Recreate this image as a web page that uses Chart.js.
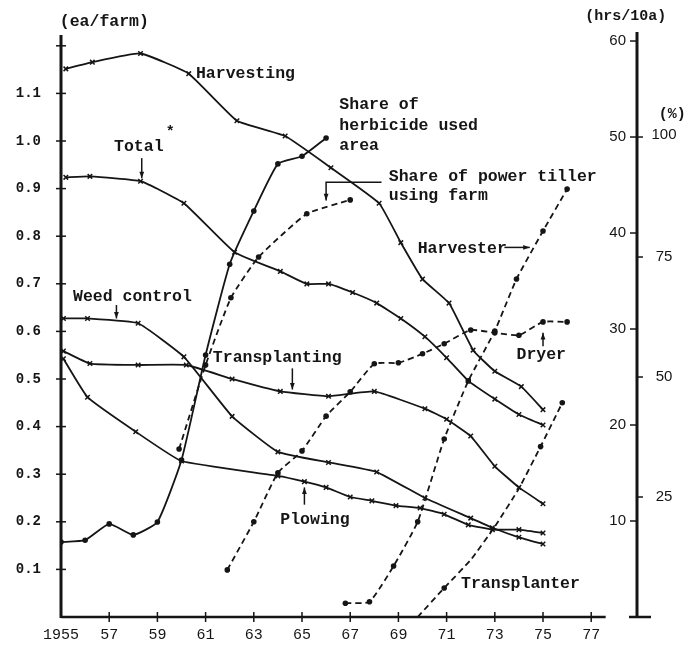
<!DOCTYPE html>
<html>
<head>
<meta charset="utf-8">
<script src="https://cdn.jsdelivr.net/npm/chart.js@4.4.1/dist/chart.umd.min.js"></script>
<style>
  html, body { margin: 0; padding: 0; background: #fff; }
  #wrap { width: 690px; height: 646px; }
</style>
</head>
<body>
<div id="wrap"><canvas id="line-chart" width="690" height="646"></canvas></div>
<script>
// ------------------------------------------------------
// @Data
// ------------------------------------------------------

const yearTicks = [1955, 1957, 1959, 1961, 1963, 1965, 1967, 1969, 1971, 1973, 1975, 1977];
const eaTicks   = [0.1, 0.2, 0.3, 0.4, 0.5, 0.6, 0.7, 0.8, 0.9, 1.0, 1.1, 1.2];
const hrsTicks  = [10, 20, 30, 40, 50, 60];
const pctTicks  = [25, 50, 75, 100];

// labour hours (hrs/10a)
const harvestingYears = [1955.2, 1956.3, 1958.3, 1960.3, 1962.3, 1964.3, 1966.2, 1968.2, 1969.1, 1970.0, 1971.1, 1972.1, 1973.0, 1974.1, 1975.0];
const harvestingHrs   = [57.1, 57.8, 58.7, 56.6, 51.7, 50.1, 46.8, 43.1, 39.0, 35.2, 32.7, 27.8, 25.6, 24.0, 21.6];

const totalYears = [1955.2, 1956.2, 1958.3, 1960.1, 1962.2, 1964.1, 1965.2, 1966.1, 1967.1, 1968.1, 1969.1, 1970.1, 1971.0, 1971.9, 1973.0, 1974.0, 1975.0];
const totalHrs   = [45.8, 45.9, 45.4, 43.1, 38.0, 36.0, 34.7, 34.7, 33.8, 32.7, 31.1, 29.2, 27.0, 24.6, 22.7, 21.1, 20.0];

const weedYears = [1955.1, 1956.1, 1958.2, 1960.1, 1962.1, 1964.0, 1966.1, 1968.1, 1970.1, 1972.0, 1972.9, 1974.0, 1975.0];
const weedHrs   = [31.1, 31.1, 30.6, 27.1, 20.9, 17.2, 16.1, 15.1, 12.4, 10.3, 9.3, 8.3, 7.6];

const transplantingYears = [1955.1, 1956.2, 1958.2, 1960.2, 1962.1, 1964.1, 1966.1, 1968.0, 1970.1, 1971.0, 1972.0, 1973.0, 1974.0, 1975.0];
const transplantingHrs   = [27.7, 26.4, 26.25, 26.25, 24.8, 23.5, 23.0, 23.5, 21.7, 20.6, 18.85, 15.7, 13.5, 11.8];

const plowingYears = [1955.1, 1956.1, 1958.1, 1960.0, 1964.0, 1965.1, 1966.0, 1967.0, 1967.9, 1968.9, 1969.9, 1970.9, 1971.9, 1972.9, 1974.0, 1975.0];
const plowingHrs   = [26.9, 22.9, 19.3, 16.25, 14.7, 14.1, 13.5, 12.5, 12.1, 11.6, 11.35, 10.7, 9.6, 9.1, 9.1, 8.75];

// shares (%)
const herbicideYears = [1955, 1956, 1957, 1958, 1959, 1960, 1961, 1962, 1963, 1964, 1965, 1966];
const herbicidePct   = [15.6, 16.0, 19.4, 17.1, 19.8, 32.7, 54.6, 73.5, 84.6, 94.4, 96.0, 99.8];

const tillerYears = [1959.9, 1961.0, 1962.05, 1963.2, 1965.2, 1967.0];
const tillerPct   = [35.0, 52.5, 66.5, 75.0, 84.0, 86.9];

// machines owned (ea/farm)
const harvesterYears = [1966.8, 1967.8, 1968.8, 1969.8, 1970.9, 1971.9, 1973.0, 1973.9, 1975.0, 1976.0];
const harvesterEa    = [0.029, 0.032, 0.107, 0.200, 0.374, 0.496, 0.601, 0.710, 0.811, 0.899];

const dryerYears = [1961.9, 1963.0, 1964.0, 1965.0, 1966.0, 1967.0, 1968.0, 1969.0, 1970.0, 1970.9, 1972.0, 1973.0, 1974.0, 1975.0, 1976.0];
const dryerEa    = [0.099, 0.200, 0.303, 0.349, 0.422, 0.473, 0.532, 0.534, 0.553, 0.574, 0.603, 0.597, 0.592, 0.620, 0.620];

const transplanterYears = [1969.8, 1970.9, 1972.0, 1973.0, 1974.0, 1974.9, 1975.8];
const transplanterEa    = [0.0, 0.061, 0.12, 0.19, 0.27, 0.358, 0.45];

// ------------------------------------------------------
// @Style helpers
// ------------------------------------------------------

const INK = '#151515';
const MONO = '"Liberation Mono", "DejaVu Sans Mono", monospace';
const SANS = '"Liberation Sans", "DejaVu Sans", sans-serif';

const pts = (xs, ys) => xs.map((x, i) => ({ x, y: ys[i] }));

function crossLine(label, xs, ys) {
  return {
    label, data: pts(xs, ys), yAxisID: 'yR',
    borderColor: INK, borderWidth: 1.8, tension: 0.12,
    pointStyle: 'crossRot', pointRadius: 3.2, pointBorderWidth: 1.5,
    pointBorderColor: INK, pointBackgroundColor: INK,
  };
}

function dotLine(label, xs, ys, axis, dashed, radius) {
  return {
    label, data: pts(xs, ys), yAxisID: axis,
    borderColor: INK, borderWidth: 1.8, tension: 0.15,
    borderDash: dashed ? [6, 4] : [],
    pointStyle: 'circle', pointRadius: radius || 2.8, pointBorderWidth: 0,
    pointBackgroundColor: INK,
  };
}

// ------------------------------------------------------
// @Annotations (year, hrs/10a)
// ------------------------------------------------------

const notes = [
  { text: '(ea/farm)', x: 1954.95, y: 62.0 },
  { text: '(hrs/10a)', x: 1976.75, y: 62.6, size: 15 },
  { text: '(%)', x: 1979.8, y: 52.4, size: 15 },
  { text: 'Harvesting', x: 1960.6, y: 56.6 },
  { text: 'Share of', x: 1966.55, y: 53.3 },
  { text: 'herbicide used', x: 1966.55, y: 51.15 },
  { text: 'area', x: 1966.55, y: 49.05 },
  { text: 'Total', x: 1957.2, y: 48.95 },
  { text: '*', x: 1959.35, y: 50.5, size: 15 },
  { text: 'Share of power tiller', x: 1968.6, y: 45.8 },
  { text: 'using farm', x: 1968.6, y: 43.85 },
  { text: 'Harvester', x: 1969.8, y: 38.4 },
  { text: 'Weed control', x: 1955.5, y: 33.3 },
  { text: 'Transplanting', x: 1961.3, y: 27.0 },
  { text: 'Dryer', x: 1973.9, y: 27.3 },
  { text: 'Plowing', x: 1964.1, y: 10.1 },
  { text: 'Transplanter', x: 1971.6, y: 3.5 },
];

const arrows = [
  [[1958.35, 47.8], [1958.35, 45.7]],
  [[1957.3, 32.5], [1957.3, 31.1]],
  [[1964.6, 25.9], [1964.6, 23.7]],
  [[1975.0, 28.2], [1975.0, 29.6]],
  [[1965.1, 11.7], [1965.1, 13.5]],
  [[1973.4, 38.5], [1974.45, 38.5]],
  [[1968.3, 45.3], [1966.0, 45.3], [1966.0, 43.4]],
];

const decorPlugin = {
  id: 'decor',
  afterDraw(chart) {
    const { ctx, chartArea: a, scales: { x, yL, yR, yP } } = chart;
    const px = v => x.getPixelForValue(v);
    const seg = (x1, y1, x2, y2) => { ctx.beginPath(); ctx.moveTo(x1, y1); ctx.lineTo(x2, y2); ctx.stroke(); };

    ctx.save();
    ctx.strokeStyle = INK;
    ctx.fillStyle = INK;

    // axis lines
    ctx.lineWidth = 3;
    seg(a.left, a.bottom + 1, a.left, a.top + 3);
    seg(a.right, a.bottom + 1, a.right, a.top);
    ctx.lineWidth = 2.5;
    seg(a.left, a.bottom, px(1977.6), a.bottom);
    seg(a.right - 8, a.bottom, a.right + 14, a.bottom);

    // tick marks
    ctx.lineWidth = 1.5;
    eaTicks.forEach(v => { const y = yL.getPixelForValue(v); seg(a.left - 5, y, a.left + 5, y); });
    yearTicks.slice(1).forEach(v => { const xx = px(v); seg(xx, a.bottom - 5, xx, a.bottom + 5); });
    hrsTicks.forEach(v => { const y = yR.getPixelForValue(v); seg(a.right - 7, y, a.right, y); });
    pctTicks.forEach(v => { const y = yP.getPixelForValue(v); seg(a.right, y, a.right + 6, y); });

    // % labels
    ctx.font = '15px ' + SANS;
    ctx.textAlign = 'center';
    ctx.textBaseline = 'middle';
    pctTicks.forEach(v => {
      const y = yP.getPixelForValue(v);
      ctx.fillText(String(v), a.right + 27, y - (v === 100 ? 2 : 0));
    });

    // notes
    ctx.textAlign = 'left';
    notes.forEach(n => {
      ctx.font = 'bold ' + (n.size || 16.5) + 'px ' + MONO;
      ctx.fillText(n.text, px(n.x), yR.getPixelForValue(n.y));
    });

    // arrows
    ctx.lineWidth = 1.5;
    arrows.forEach(path => {
      const p = path.map(([u, v]) => [px(u), yR.getPixelForValue(v)]);
      ctx.beginPath();
      ctx.moveTo(p[0][0], p[0][1]);
      p.slice(1).forEach(q => ctx.lineTo(q[0], q[1]));
      ctx.stroke();
      const [x1, y1] = p[p.length - 2];
      const [x2, y2] = p[p.length - 1];
      const ang = Math.atan2(y2 - y1, x2 - x1);
      ctx.beginPath();
      ctx.moveTo(x2, y2);
      ctx.lineTo(x2 - 7 * Math.cos(ang - 0.35), y2 - 7 * Math.sin(ang - 0.35));
      ctx.lineTo(x2 - 7 * Math.cos(ang + 0.35), y2 - 7 * Math.sin(ang + 0.35));
      ctx.closePath();
      ctx.fill();
    });
    ctx.restore();
  },
};

// ------------------------------------------------------
// @Chart
// ------------------------------------------------------

const lineChartBox = document.getElementById('line-chart');

if (lineChartBox) {
  const lineCtx = lineChartBox.getContext('2d');

  new Chart(lineCtx, {
    type: 'line',
    data: {
      datasets: [
        crossLine('Harvesting', harvestingYears, harvestingHrs),
        crossLine('Total', totalYears, totalHrs),
        crossLine('Weed control', weedYears, weedHrs),
        crossLine('Transplanting', transplantingYears, transplantingHrs),
        crossLine('Plowing', plowingYears, plowingHrs),
        dotLine('Share of herbicide used area', herbicideYears, herbicidePct, 'yP', false),
        dotLine('Share of power tiller using farm', tillerYears, tillerPct, 'yP', true),
        dotLine('Harvester', harvesterYears, harvesterEa, 'yL', true),
        dotLine('Dryer', dryerYears, dryerEa, 'yL', true),
        dotLine('Transplanter', transplanterYears, transplanterEa, 'yL', true, [0, 2.8, 0, 0, 0, 2.8, 2.8]),
      ],
    },
    options: {
      responsive: false,
      animation: false,
      layout: { padding: { top: 32, right: 53, left: 0, bottom: 0 } },
      plugins: {
        legend: { display: false },
        tooltip: { enabled: false },
      },
      scales: {
        x: {
          type: 'linear', min: 1955, max: 1978.9,
          grid: { display: false }, border: { display: false },
          afterBuildTicks: s => { s.ticks = yearTicks.map(v => ({ value: v })); },
          afterFit: s => { s.height = 29; },
          ticks: {
            padding: 1, color: INK, autoSkip: false, maxRotation: 0,
            font: { family: MONO, size: 15 },
            callback: v => (v === 1955 ? '1955' : String(v).slice(2)),
          },
        },
        yL: {
          position: 'left', min: 0, max: 1.229,
          grid: { display: false }, border: { display: false },
          afterBuildTicks: s => { s.ticks = eaTicks.map(v => ({ value: v })); },
          afterFit: s => { s.width = 61; },
          ticks: {
            padding: 12, color: INK,
            font: { family: MONO, size: 14, weight: 'bold' },
            callback: v => (v > 1.15 ? '' : v.toFixed(1)),
          },
        },
        yR: {
          position: 'right', min: 0, max: 60.94,
          grid: { display: false }, border: { display: false },
          afterBuildTicks: s => { s.ticks = hrsTicks.map(v => ({ value: v })); },
          afterFit: s => { s.width = 0; },
          ticks: {
            mirror: true, padding: -11, color: INK,
            font: { family: SANS, size: 15 },
          },
        },
        yP: {
          position: 'right', min: 0, max: 121.88, display: false,
        },
      },
    },
    plugins: [decorPlugin],
  });
}
</script>
</body>
</html>
